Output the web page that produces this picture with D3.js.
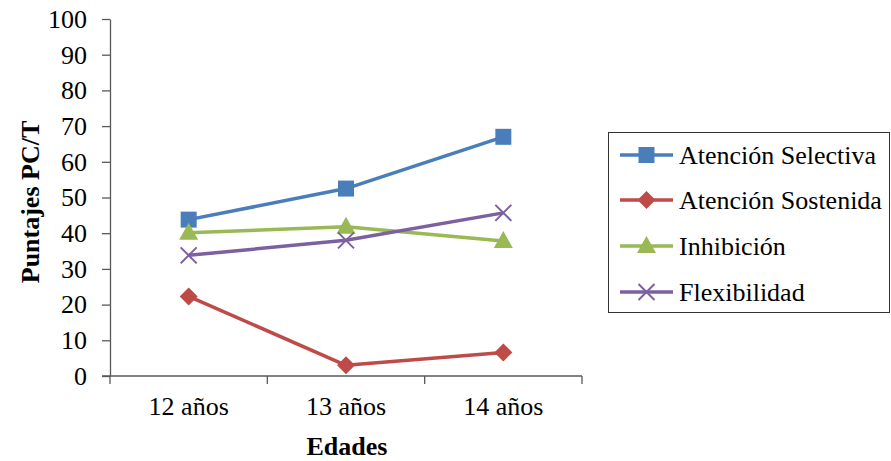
<!DOCTYPE html>
<html>
<head>
<meta charset="utf-8">
<script src="https://cdn.jsdelivr.net/npm/d3@7"></script>
<style>
  html, body { margin: 0; padding: 0; background: #fff; }
  svg { display: block; }
</style>
</head>
<body>
<svg id="chart" width="891" height="461"></svg>
<script>
// Edades y puntajes por prueba
const categories = ["12 años", "13 años", "14 años"];
const seriesNames = ["Atención Selectiva", "Atención Sostenida", "Inhibición", "Flexibilidad"];
const atencionSelectiva = [43.8, 52.5, 67.0];
const atencionSostenida = [22.3, 3.0, 6.6];
const inhibicion = [40.1, 41.8, 37.8];
const flexibilidad = [33.8, 38.0, 45.7];
const yTicks = [0, 10, 20, 30, 40, 50, 60, 70, 80, 90, 100];

const colors = ["#4A7EBB", "#BE4B48", "#98B954", "#7D60A0"];
const markers = ["square", "diamond", "triangle", "cross"];
const seriesValues = [atencionSelectiva, atencionSostenida, inhibicion, flexibilidad];

const FONT = `"Liberation Serif"`;

const svg = d3.select("#chart");
const axisColor = "#595959";

const x = d3.scaleBand().domain(categories).range([110, 582]).padding(0);
const y = d3.scaleLinear().domain([0, 100]).range([376, 19]);

// Eje Y
const yAxis = svg.append("g")
  .attr("transform", "translate(110,0)")
  .call(d3.axisLeft(y).tickValues(yTicks).tickSize(8).tickPadding(15).tickSizeOuter(0));
yAxis.attr("font-family", null).attr("font-size", null);
yAxis.select(".domain").attr("stroke", axisColor).attr("stroke-width", 1.3);
yAxis.selectAll(".tick line").attr("stroke", axisColor).attr("stroke-width", 1.3);
yAxis.selectAll(".tick text")
  .style("font-family", FONT)
  .style("font-size", "26px").attr("fill", "#000");

// Eje X: etiquetas centradas en cada categoría
const xAxis = svg.append("g")
  .attr("transform", "translate(0,376)")
  .call(d3.axisBottom(x).tickSize(0).tickPadding(21));
xAxis.attr("font-family", null).attr("font-size", null);
xAxis.select(".domain").remove();
xAxis.selectAll(".tick text")
  .style("font-family", FONT)
  .style("font-size", "26px").attr("fill", "#000");

// Línea del eje X y marcas en los límites de categoría
const edges = categories.map(c => x(c)).concat([x.range()[1]]);
svg.append("line")
  .attr("x1", x.range()[0] - 8).attr("x2", x.range()[1])
  .attr("y1", y(0)).attr("y2", y(0))
  .attr("stroke", axisColor).attr("stroke-width", 1.3);
svg.selectAll(".xedge").data(edges).enter().append("line")
  .attr("x1", d => d).attr("x2", d => d)
  .attr("y1", y(0)).attr("y2", y(0) + 8)
  .attr("stroke", axisColor).attr("stroke-width", 1.3);

// Títulos de ejes
svg.append("text")
  .attr("transform", "translate(39,202) rotate(-90)")
  .attr("text-anchor", "middle")
  .style("font-family", FONT)
  .style("font-size", "26px").style("font-weight", "bold")
  .text("Puntajes PC/T");
svg.append("text")
  .attr("x", 347).attr("y", 455)
  .attr("text-anchor", "middle")
  .style("font-family", FONT)
  .style("font-size", "26px").style("font-weight", "bold")
  .text("Edades");

function drawMarker(g, type, color, cx, cy) {
  if (type === "square") {
    g.append("rect").attr("x", cx - 8).attr("y", cy - 8).attr("width", 16).attr("height", 16)
      .attr("fill", color);
  } else if (type === "diamond") {
    g.append("path").attr("d", `M${cx},${cy - 9}L${cx + 9},${cy}L${cx},${cy + 9}L${cx - 9},${cy}Z`)
      .attr("fill", color);
  } else if (type === "triangle") {
    g.append("path").attr("d", `M${cx},${cy - 10}L${cx + 9.5},${cy + 7}L${cx - 9.5},${cy + 7}Z`)
      .attr("fill", color);
  } else {
    g.append("path").attr("d", `M${cx - 8},${cy - 8}L${cx + 8},${cy + 8}M${cx - 8},${cy + 8}L${cx + 8},${cy - 8}`)
      .attr("stroke", color).attr("stroke-width", 2).attr("fill", "none");
  }
}

const line = d3.line()
  .x((d, i) => x(categories[i]) + x.bandwidth() / 2)
  .y(d => y(d));

seriesValues.forEach((vals, s) => {
  const g = svg.append("g");
  g.append("path").datum(vals)
    .attr("d", line)
    .attr("fill", "none")
    .attr("stroke", colors[s])
    .attr("stroke-width", 3.5)
    .attr("stroke-linejoin", "round");
  vals.forEach((v, i) => {
    drawMarker(g, markers[s], colors[s], x(categories[i]) + x.bandwidth() / 2, y(v));
  });
});

// Leyenda
const legend = svg.append("g");
legend.append("rect")
  .attr("x", 608.5).attr("y", 132.5).attr("width", 281).attr("height", 180)
  .attr("fill", "#fff").attr("stroke", "#333").attr("stroke-width", 1);
const legendY = [155, 200, 246, 292];
seriesNames.forEach((name, s) => {
  const ly = legendY[s];
  legend.append("line")
    .attr("x1", 620).attr("x2", 673).attr("y1", ly).attr("y2", ly)
    .attr("stroke", colors[s]).attr("stroke-width", 3.5);
  drawMarker(legend, markers[s], colors[s], 646.5, ly);
  legend.append("text")
    .attr("x", 679).attr("y", ly + 8.6)
    .style("font-family", FONT)
    .style("font-size", "26px")
    .text(name);
});
</script>
</body>
</html>
